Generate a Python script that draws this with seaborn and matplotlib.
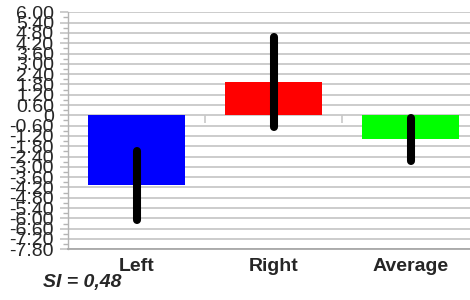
import numpy as np
import pandas as pd
import matplotlib
matplotlib.use("Agg")
import matplotlib.pyplot as plt
import seaborn as sns

categories = ["Left", "Right", "Average"]
means = [-4.08, 1.94, -1.40]
errors = [2.00, 2.63, 1.27]
bar_colors = ["#0000ff", "#ff0000", "#00ff00"]
ytick_values = [6.0, 5.4, 4.8, 4.2, 3.6, 3.0, 2.4, 1.8, 1.2, 0.6, 0.0,
                -0.6, -1.2, -1.8, -2.4, -3.0, -3.6, -4.2, -4.8, -5.4,
                -6.0, -6.6, -7.2, -7.8]
ytick_labels = ["0" if v == 0 else f"{v:.2f}" for v in ytick_values]
annotation = "SI = 0,48"

sns.set_theme(style="white")
plt.rcParams["font.family"] = ["Liberation Sans", "DejaVu Sans"]

grid_c = "#c8c8c8"
spine_c = "#b4b4b4"

fig = plt.figure(figsize=(4.7, 3.0), dpi=100)
ax = fig.add_axes([68 / 470, 1 - 249.3 / 300, 411 / 470, 237 / 300])

df = pd.DataFrame({"cat": categories, "val": means})
sns.barplot(data=df, x="cat", y="val", hue="cat", palette=bar_colors,
            order=categories, hue_order=categories, width=0.71,
            saturation=1, errorbar=None, legend=False, ax=ax, zorder=2,
            linewidth=0)

eb = ax.errorbar(x=np.arange(len(categories)), y=means, yerr=errors,
                 fmt="none", ecolor="black", elinewidth=5.8, capsize=0, zorder=3)
for lc in eb[2]:
    lc.set_capstyle("round")

ax.set_xlim(-0.5, 2.5)
ax.set_ylim(-7.8, 6.0)
ax.set_yticks(ytick_values)
ax.set_yticklabels(ytick_labels, fontsize=14)
ax.set_yticks([v - 0.3 for v in ytick_values[:-1]], minor=True)
ax.yaxis.grid(True, which="major", color=grid_c, linewidth=1.3)
ax.set_axisbelow(True)
ax.tick_params(axis="y", which="major", length=6, width=1.3, color=grid_c,
               pad=4, left=True)
ax.tick_params(axis="y", which="minor", length=3.6, width=1, color=spine_c,
               left=True)

ax.set_xticks(range(len(categories)))
ax.set_xticklabels(categories, fontsize=14, fontweight="bold")
ax.tick_params(axis="x", length=0, pad=6)
ax.set_xlabel("")
ax.set_ylabel("")

for s in ["top", "right"]:
    ax.spines[s].set_visible(False)
ax.spines["left"].set_color(spine_c)
ax.spines["left"].set_linewidth(1)
ax.spines["bottom"].set_color("#a8a8a8")
ax.spines["bottom"].set_linewidth(1.3)

# separator ticks on the zero line
sec = ax.secondary_xaxis(7.8 / 13.8)
sec.set_alignment("bottom")
for s in sec.spines.values():
    s.set_visible(False)
sec.set_xticks([0.5, 1.5])
sec.tick_params(axis="x", length=5.5, width=1.2, color=grid_c,
                labelbottom=False, labeltop=False, bottom=True, top=False)

fig.text(43 / 470, 1 - 283 / 300, annotation, fontsize=14,
         fontweight="bold", fontstyle="italic", va="center", ha="left")

fig.savefig("out.png", dpi=100)
